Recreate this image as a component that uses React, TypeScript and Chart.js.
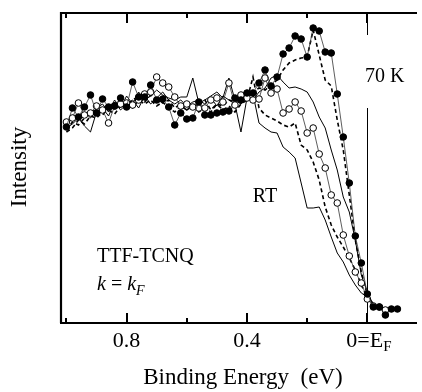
import React, { useEffect, useRef } from "react";
import { Chart, registerables } from "chart.js";

Chart.register(...registerables);

// Binding energy grid (eV)
const energies = [
  1.0, 0.98, 0.96, 0.94, 0.92, 0.9, 0.88, 0.86, 0.84, 0.82,
  0.8, 0.78, 0.76, 0.74, 0.72, 0.7, 0.68, 0.66, 0.64, 0.62,
  0.6, 0.58, 0.56, 0.54, 0.52, 0.5, 0.48, 0.46, 0.44, 0.42,
  0.4, 0.38, 0.36, 0.34, 0.32, 0.3, 0.28, 0.26, 0.24, 0.22,
  0.2, 0.18, 0.16, 0.14, 0.12, 0.1, 0.08, 0.06, 0.04, 0.02,
  0.0, -0.02, -0.04, -0.06, -0.08, -0.1,
];

// Intensity (arb. units)
const filled70K = [
  196, 215, 206, 216, 228, 210, 224, 216, 217, 225,
  216, 241, 226, 226, 238, 223, 224, 216, 198, 210,
  204, 205, 221, 208, 208, 210, 211, 212, 225, 223,
  230, 230, 240, 253, 237, 246, 269, 275, 287, 284,
  266, 295, 292, 271, 270, 229, 186, 140, 87, 60,
  29, 16, 16, 8, 14, 14,
];
const openCircles = [
  201, 205, 220, 208, 210, 217, 213, 200, 217, 219,
  220, 218, 223, 229, 231, 246, 240, 236, 226, 217,
  219, 216, 215, 215, 223, 225, 221, 240, 218, 228,
  225, 223, 224, 245, 230, 234, 210, 214, 221, 212,
  190, 195, 169, 155, 128, 120, 88, 67, 51, 40,
  24, 17, 16, 13, null, null,
];
const dashedUpper = [
  193, 201, 198, 205, 211, 213, 208, 215, 219, 223,
  217, 223, 227, 221, 228, 225, 220, 223, 215, 219,
  213, 217, 219, 223, 213, 219, 217, 223, 221, 227,
  225, 231, 235, 233, 238, 243, 253, 260, 263, 265,
  266, 293, 268, 243, 237, 203, 173, 128, 83, 51,
  28, 18, 13, 15, null, null,
];
const solidMiddle = [
  198, 208, 203, 211, 205, 215, 219, 211, 223, 215,
  227, 219, 231, 223, 227, 233, 228, 225, 223, 226,
  226, 245, 220, 223, 227, 231, 225, 245, 223, 219,
  227, 223, 231, 235, 245, 248, 241, 235, 236, 234,
  231, 221, 206, 195, 173, 153, 126, 111, 83, 48,
  31, 18, 15, null, null, null,
];
const dashedLower = [
  191, 195, 203, 199, 207, 205, 211, 213, 209, 217,
  219, 215, 223, 219, 223, 217, 221, 215, 211, 217,
  213, 219, 211, 215, 211, 219, 213, 217, 211, 219,
  223, 246, 215, 208, 205, 202, 198, 196, 200, 178,
  173, 161, 143, 116, 98, 86, 76, 65, 53, 38,
  25, 18, 15, null, null, null,
];
const solidRT = [
  195, 199, 205, 197, 191, 211, 215, 207, 221, 213,
  219, 223, 215, 227, 219, 225, 231, 223, 219, 223,
  217, 221, 223, 219, 225, 217, 227, 223, 219, 191,
  225, 229, 200, 195, 191, 190, 176, 171, 165, 140,
  115, 115, 116, 103, 86, 70, 61, 48, 38, 30,
  26, 20, null, null, null, null,
];

const majorTicks = [0.8, 0.4, 0];
const minorTicks = [1.0, 0.6, 0.2];
const majorTickLabels = ["0.8", "0.4", "0=E"];

const xMin = -0.165;
const xMax = 1.018;
const yMin = 0;
const yMax = 310;

function toPoints(vals: (number | null)[]) {
  const pts: { x: number; y: number }[] = [];
  vals.forEach((v, i) => {
    if (v !== null) pts.push({ x: energies[i], y: v });
  });
  return pts;
}

const SERIF = "'Liberation Serif', 'Times New Roman', serif";

const decorPlugin = {
  id: "decor",
  beforeDatasetsDraw(chart: any) {
    const { ctx, chartArea, scales } = chart;
    const x0 = scales.x.getPixelForValue(0);
    ctx.save();
    ctx.strokeStyle = "#000";
    ctx.lineWidth = 1;
    ctx.beginPath();
    ctx.moveTo(Math.round(x0) + 0.5, chartArea.top);
    ctx.lineTo(Math.round(x0) + 0.5, 35);
    ctx.moveTo(Math.round(x0) + 0.5, 108);
    ctx.lineTo(Math.round(x0) + 0.5, chartArea.bottom);
    ctx.stroke();
    ctx.restore();
  },
  afterDraw(chart: any) {
    const { ctx, chartArea, scales } = chart;
    const { left, right, top, bottom } = chartArea;
    ctx.save();
    ctx.strokeStyle = "#000";
    ctx.lineWidth = 2.2;
    ctx.beginPath();
    ctx.moveTo(left, bottom);
    ctx.lineTo(left, top);
    ctx.lineTo(right, top);
    ctx.moveTo(left - 1, bottom);
    ctx.lineTo(right, bottom);
    ctx.stroke();

    // inward ticks
    ctx.lineWidth = 2;
    const drawTick = (v: number, len: number) => {
      const px = Math.round(scales.x.getPixelForValue(v));
      ctx.beginPath();
      ctx.moveTo(px, bottom);
      ctx.lineTo(px, bottom - len);
      ctx.moveTo(px, top);
      ctx.lineTo(px, top + len);
      ctx.stroke();
    };
    majorTicks.forEach((v) => drawTick(v, 10));
    minorTicks.forEach((v) => drawTick(v, 5));

    ctx.fillStyle = "#000";
    ctx.font = `22px ${SERIF}`;
    ctx.textBaseline = "middle";
    ctx.textAlign = "center";
    majorTicks.forEach((v, i) => {
      const px = scales.x.getPixelForValue(v);
      const lab = majorTickLabels[i];
      if (v === 0) {
        ctx.textAlign = "left";
        const w = ctx.measureText(lab).width;
        const sx = px - 21;
        ctx.fillText(lab, sx, 341);
        ctx.font = `15px ${SERIF}`;
        ctx.fillText("F", sx + w, 347);
        ctx.font = `22px ${SERIF}`;
        ctx.textAlign = "center";
      } else {
        ctx.fillText(lab, px, 341);
      }
    });

    // axis titles
    ctx.textAlign = "center";
    ctx.font = `23px ${SERIF}`;
    ctx.fillText("Binding Energy  (eV)", 243, 378);
    ctx.save();
    ctx.translate(20, 167);
    ctx.rotate(-Math.PI / 2);
    ctx.fillText("Intensity", 0, 0);
    ctx.restore();

    // annotations
    ctx.font = `20px ${SERIF}`;
    ctx.textAlign = "left";
    ctx.fillText("70 K", 365, 77);
    ctx.textAlign = "center";
    ctx.fillText("RT", 265, 197);
    ctx.textAlign = "left";
    ctx.fillText("TTF-TCNQ", 97, 257);
    let cx = 97;
    ctx.font = `italic 20px ${SERIF}`;
    ctx.fillText("k", cx, 285);
    cx += ctx.measureText("k").width;
    ctx.font = `20px ${SERIF}`;
    ctx.fillText(" = ", cx, 285);
    cx += ctx.measureText(" = ").width;
    ctx.font = `italic 20px ${SERIF}`;
    ctx.fillText("k", cx, 285);
    cx += ctx.measureText("k").width;
    ctx.font = `italic 14px ${SERIF}`;
    ctx.fillText("F", cx, 291);
    ctx.restore();
  },
};

export default function App() {
  const ref = useRef<HTMLCanvasElement>(null);
  useEffect(() => {
    if (!ref.current) return;
    const markerSet = (fill: string) => ({
      pointRadius: 3.3,
      pointBackgroundColor: fill,
      pointBorderColor: "#000",
      pointBorderWidth: 1,
    });
    const chart = new Chart(ref.current, {
      type: "line",
      data: {
        datasets: [
          {
            label: "filled",
            data: toPoints(filled70K),
            borderColor: "#333",
            borderWidth: 0.8,
            ...markerSet("#000"),
          },
          {
            label: "open",
            data: toPoints(openCircles),
            borderColor: "#333",
            borderWidth: 0.8,
            ...markerSet("#fff"),
          },
          {
            label: "dashedUpper",
            data: toPoints(dashedUpper),
            borderColor: "#000",
            borderWidth: 1.6,
            borderDash: [4, 3],
            pointRadius: 0,
          },
          {
            label: "solidMiddle",
            data: toPoints(solidMiddle),
            borderColor: "#000",
            borderWidth: 1,
            pointRadius: 0,
          },
          {
            label: "dashedLower",
            data: toPoints(dashedLower),
            borderColor: "#000",
            borderWidth: 1.6,
            borderDash: [4, 3],
            pointRadius: 0,
          },
          {
            label: "RT",
            data: toPoints(solidRT),
            borderColor: "#000",
            borderWidth: 1,
            pointRadius: 0,
          },
        ],
      },
      options: {
        responsive: false,
        animation: false,
        events: [],
        layout: { padding: { left: 61, top: 13, right: 0, bottom: 69 } },
        plugins: { legend: { display: false }, tooltip: { enabled: false } },
        scales: {
          x: { type: "linear", min: xMin, max: xMax, reverse: true, display: false },
          y: { type: "linear", min: yMin, max: yMax, display: false },
        },
        elements: { line: { tension: 0 } },
      },
      plugins: [decorPlugin],
    });
    return () => chart.destroy();
  }, []);
  return (
    <div style={{ position: "fixed", left: 0, top: 0, width: 422, height: 392, background: "#fff" }}>
      <canvas ref={ref} width={422} height={392} style={{ display: "block", width: 422, height: 392 }} />
    </div>
  );
}
